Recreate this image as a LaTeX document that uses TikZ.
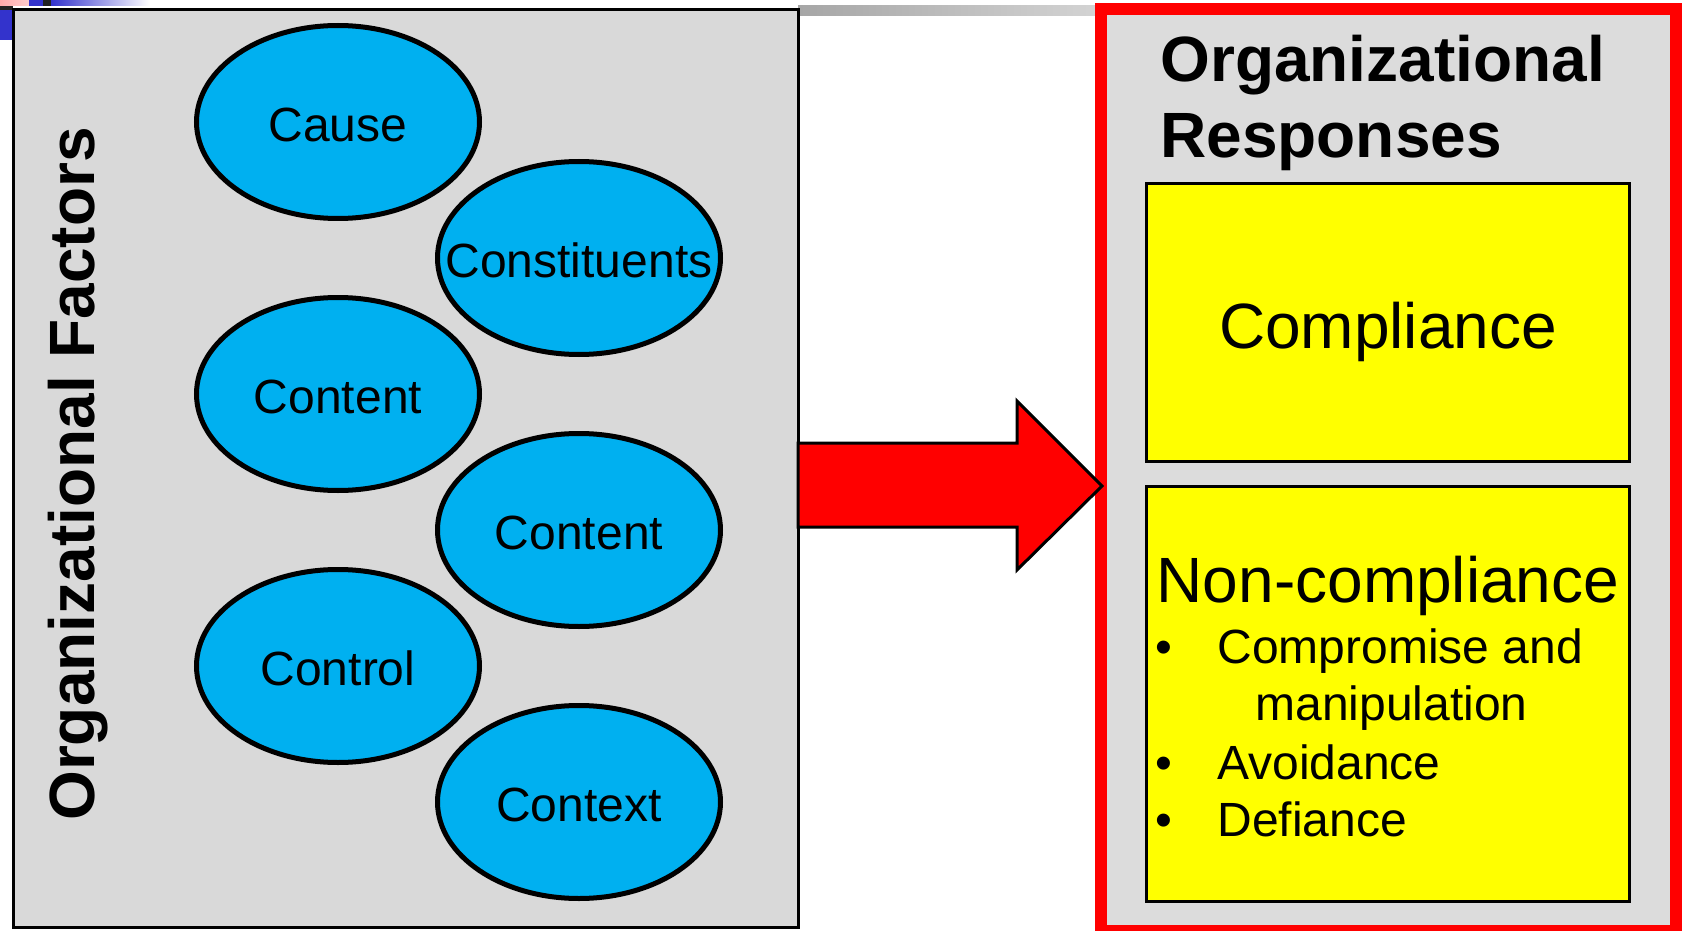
\documentclass[tikz,border=0pt]{standalone}
\usepackage{fontspec}
\setmainfont{Liberation Sans}
\usetikzlibrary{shapes.geometric}
\definecolor{leftgray}{HTML}{D9D9D9}
\definecolor{rightgray}{HTML}{DCDCDC}
\definecolor{skyblue}{HTML}{00B0F0}
\definecolor{decoblue}{HTML}{3333CC}
\definecolor{decodark}{HTML}{222222}
\definecolor{decopink}{HTML}{FFAAAA}
\definecolor{pureyellow}{HTML}{FFFF00}
\definecolor{purered}{HTML}{FF0000}
\begin{document}
\begin{tikzpicture}[x=0.5pt,y=-0.5pt,
  factor/.style={ellipse, draw=black, line width=2.5pt, fill=skyblue,
    minimum width=141.5pt, minimum height=96.5pt, inner sep=0pt,
    text height=19.5pt, text depth=0pt,
    font=\fontsize{24}{28.8}\selectfont},
  respbox/.style={rectangle, draw=black, line width=1.5pt, fill=pureyellow,
    minimum width=241.5pt, inner sep=0pt},
  bigtext/.style={inner sep=0pt, font=\fontsize{32}{38}\selectfont},
  boldtext/.style={inner sep=0pt, font=\fontsize{32}{38}\selectfont\bfseries},
  itemtext/.style={inner sep=0pt, anchor=base west, font=\fontsize{24}{28.8}\selectfont},
  bullet/.style={inner sep=0pt, anchor=base, font=\fontsize{24}{28.8}\selectfont}]
\useasboundingbox (0,0) rectangle (1683,931);
\clip (0,0) rectangle (1683,931);

% top-left decoration
\fill[left color=decopink, right color=red!20] (0,0) rectangle (29,6);
\fill[decoblue] (29,0) rectangle (43,6);
\fill[decodark] (43,0) rectangle (51,6);
\fill[left color=decoblue, right color=white] (51,0) rectangle (150,6);
\fill[decodark] (0,6) rectangle (13,10);
\fill[decoblue] (0,10) rectangle (12,40);
\fill[left color=black!35, right color=black!17] (798,6) rectangle (1100,16);

% left panel
\node[rectangle, draw=black, line width=1.5pt, fill=leftgray, inner sep=0pt,
      minimum width=392.5pt, minimum height=458.75pt] (leftpanel) at (406,468.75) {};
\node[boldtext, rotate=90, anchor=base] (factors) at (94,474) {Organizational Factors};

\node[factor] (cause)   at (338,122) {\makebox[0pt]{Cause}};
\node[factor] (const)   at (579,258) {\makebox[0pt]{Constituents}};
\node[factor] (contA)   at (338,394) {\makebox[0pt]{Content}};
\node[factor] (contB)   at (579,530) {\makebox[0pt]{Content}};
\node[factor] (control) at (338,666) {\makebox[0pt]{Control}};
\node[factor] (context) at (579,802) {\makebox[0pt]{Context}};

% right panel
\node[rectangle, draw=purered, line width=6pt, fill=rightgray, inner sep=0pt,
      minimum width=287.5pt, minimum height=461pt] (rightpanel) at (1388.5,470) {};
\node[boldtext, anchor=base west] (title1) at (1160,81.7) {Organizational};
\node[boldtext, anchor=base west] (title2) at (1160,157.7) {Responses};

\node[respbox, minimum height=139pt] (comp) at (1388,322.5) {};
\node[bigtext, anchor=base] (comptext) at (1388,348) {Compliance};

\node[respbox, minimum height=207.25pt] (noncomp) at (1388,693.75) {};
\node[bigtext, anchor=base] (noncomptext) at (1388,602.7) {Non-compliance};

\node[bullet] (b1) at (1164,663) {•};
\node[itemtext] (i1) at (1217,663) {Compromise and};
\node[itemtext] (i1b) at (1255,720.7) {manipulation};
\node[bullet] (b2) at (1164,779) {•};
\node[itemtext] (i2) at (1217,779) {Avoidance};
\node[bullet] (b3) at (1164,836) {•};
\node[itemtext] (i3) at (1217,836) {Defiance};

% block arrow
\draw[line width=1.5pt, fill=purered, line join=miter, miter limit=10]
  (798,443) -- (1017,443) -- (1017,401) -- (1102,486) -- (1017,570)
  -- (1017,527) -- (798,527) -- cycle;
\end{tikzpicture}
\end{document}
